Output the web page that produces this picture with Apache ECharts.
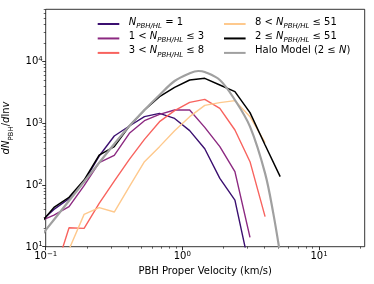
<!DOCTYPE html>
<html><head><meta charset="utf-8">
<script src="https://cdn.jsdelivr.net/npm/echarts@6/dist/echarts.min.js"></script>
<style>html,body{margin:0;padding:0;background:#fff}#c{width:374px;height:284px}</style>
</head><body><div id="c"></div>
<script>
// ---- data ----
const velocity = [0.0891,0.1149,0.1482,0.1910,0.2462,0.3175,0.4095,0.5280,0.6807,0.8776,1.1315,1.4588,1.881,2.425,3.127,4.032,5.199];
const nHalo1      = [23.9,40.3,60,113,295,623,905,1283,1452,1200,761,388,128,57,4.2,null,null];
const nHalo1to3   = [25.4,32.6,44.5,97.5,230,303,689,1104,1400,1645,1645,861,419,164.5,14.2,null,null];
const nHalo3to8   = [null,3.43,20.3,19.8,50.4,116,261,550,1064,1604,2191,2449,1750,780,239,30.7,null];
const nHalo8to51  = [null,4,9.05,33.4,42.9,36.5,94,239,419,761,1283,1959,2163,2333,1283,486,null];
const nHalo2to51  = [22.2,43.4,63.1,120.5,306,419,905,1645,2705,3837,5045,5370,4185,3263,1489,445,136.5];
const haloVelocity = [0.0891,0.1149,0.1482,0.191,0.2462,0.3175,0.4095,0.528,0.6807,0.8776,1.1315,1.309,1.4588,1.881,2.425,3.127,4.032,4.63,5.199];
const haloModel    = [13.5,27.4,55.7,113,230,462,905,1645,2880,4857,6470,7060,6800,5045,2390,883,154.6,34.7,7.5];
const xMajorTicks = [0.1,1,10];
const xMinorTicks = [0.2,0.3,0.4,0.5,0.6,0.7,0.8,0.9,2,3,4,5,6,7,8,9,20];
const yMajorTicks = [10,100,1000,10000];
const yMinorTicks = [20,30,40,50,60,70,80,90,200,300,400,500,600,700,800,900,2000,3000,4000,5000,6000,7000,8000,9000,20000,30000,40000,50000,60000,70000];
const seriesNames = ['N = 1','1 < N ≤ 3','3 < N ≤ 8','8 < N ≤ 51','2 ≤ N ≤ 51','Halo Model (2 ≤ N)'];
const legendRich = {
  'N = 1': '{g| }{i|N}{s|PBH/HL}{t| = 1}',
  '1 < N ≤ 3': '{g| }{t|1 < }{i|N}{s|PBH/HL}{t| ≤ 3}',
  '3 < N ≤ 8': '{g| }{t|3 < }{i|N}{s|PBH/HL}{t| ≤ 8}',
  '8 < N ≤ 51': '{g| }{t|8 < }{i|N}{s|PBH/HL}{t| ≤ 51}',
  '2 ≤ N ≤ 51': '{g| }{t|2 ≤ }{i|N}{s|PBH/HL}{t| ≤ 51}',
  'Halo Model (2 ≤ N)': '{g| }{t|Halo Model (2 ≤ }{i|N}{t|)}'
};
const xTitle = 'PBH Proper Velocity (km/s)';

// ---- styling ----
const F = 'DejaVu Sans';
const colors = ['#3b0f70','#8c2981','#f8635e','#fec98d','#000000','#a0a0a0'];
const widths = [1.4,1.4,1.4,1.4,1.5,2.2];

function pairs(xs, ys){ const o=[]; xs.forEach((x,i)=>{ if(ys[i]!=null) o.push([x,ys[i]]); }); return o; }
function powLabel(v){ const e=Math.round(Math.log10(v)); return '{b|10}{p|'+(e<0?'\u2212'+(-e):e)+'}'; }
const labRich = {
  b:{fontFamily:F,fontSize:10,lineHeight:12,verticalAlign:'top',padding:[1.25,0,0,0],color:'#000'},
  p:{fontFamily:F,fontSize:7,lineHeight:8,verticalAlign:'top',color:'#000'}
};
const legRich = {
  g:{width:4.4,fontSize:10,lineHeight:14,verticalAlign:'top'},
  t:{fontFamily:F,fontSize:10,lineHeight:14,verticalAlign:'top',color:'#000'},
  i:{fontFamily:F,fontSize:10,fontStyle:'italic',lineHeight:14,verticalAlign:'top',color:'#000'},
  s:{fontFamily:F,fontSize:7,fontStyle:'italic',lineHeight:8,verticalAlign:'top',padding:[5.5,0,0,0],color:'#000'}
};
const yNameRich = {
  t:{fontFamily:F,fontSize:10,lineHeight:14,verticalAlign:'top',color:'#000'},
  i:{fontFamily:F,fontSize:10,fontStyle:'italic',lineHeight:14,verticalAlign:'top',color:'#000'},
  s:{fontFamily:F,fontSize:7,lineHeight:8,verticalAlign:'top',padding:[5.5,0,0,0],color:'#000'}
};
const xMin=0.1,xMax=21.6,yMin=10,yMax=70600;
const tickLine={color:'#000',width:0.8};

function mkAxis(dir, major, minor, extra){
  const base = {type:'log',logBase:10,min:dir==='x'?xMin:yMin,max:dir==='x'?xMax:yMax,
    position:dir==='x'?'bottom':'left',axisLine:{show:false},splitLine:{show:false}};
  const a = Object.assign({},base,{
    axisTick:{show:true,customValues:major,length:3.5,lineStyle:tickLine},
    axisLabel:{show:true,customValues:major,formatter:powLabel,rich:labRich,margin:dir==='x'?3.5:3,fontFamily:F,fontSize:10,color:'#000'}
  },extra);
  const b = Object.assign({},base,{
    axisTick:{show:true,customValues:minor,length:2,lineStyle:{color:'#000',width:0.6}},
    axisLabel:{show:false}
  });
  return [a,b];
}

const chart = echarts.init(document.getElementById('c'),null,{renderer:'canvas'});
const allY = [nHalo1,nHalo1to3,nHalo3to8,nHalo8to51,nHalo2to51];
const series = allY.map((ys,k)=>({
  name:seriesNames[k],type:'line',xAxisIndex:0,yAxisIndex:0,data:pairs(velocity,ys),
  symbol:'none',showSymbol:false,clip:true,
  lineStyle:{color:colors[k],width:widths[k]},itemStyle:{color:colors[k]},z:2+k
}));
series.push({name:seriesNames[5],type:'line',xAxisIndex:0,yAxisIndex:0,data:pairs(haloVelocity,haloModel),
  symbol:'none',showSymbol:false,clip:true,smooth:0.35,
  lineStyle:{color:colors[5],width:widths[5]},itemStyle:{color:colors[5]},z:8});

const legFmt = name => legendRich[name];
const legBase = {orient:'vertical',itemWidth:21.6,itemHeight:14,itemGap:1.85,padding:0,selectedMode:false,
  itemStyle:{opacity:0,borderWidth:0},
  formatter:legFmt,textStyle:{rich:legRich,fontFamily:F,fontSize:10,color:'#000'}};

chart.setOption({
  animation:false,
  backgroundColor:'#fff',
  grid:{left:45.7,right:9.3,top:9.3,bottom:37.3,show:true,borderColor:'#000',borderWidth:0.8,backgroundColor:'transparent',containLabel:false,outerBoundsMode:'none'},
  xAxis: mkAxis('x',xMajorTicks,xMinorTicks,{name:xTitle,nameLocation:'middle',nameGap:20,
    nameTextStyle:{fontFamily:F,fontSize:10,color:'#000'}}),
  yAxis: mkAxis('y',yMajorTicks,yMinorTicks,{name:'{i|dN}{s|PBH}{t|/}{i|d}{t|ln}{i|v}',nameLocation:'middle',nameGap:30,nameRotate:90,
    nameTextStyle:{rich:yNameRich,fontFamily:F,fontSize:10,color:'#000'}}),
  legend:[
    Object.assign({},legBase,{data:seriesNames.slice(0,3),left:96.7,top:17}),
    Object.assign({},legBase,{data:seriesNames.slice(3),left:223,top:17})
  ],
  series:series
});
</script></body></html>
